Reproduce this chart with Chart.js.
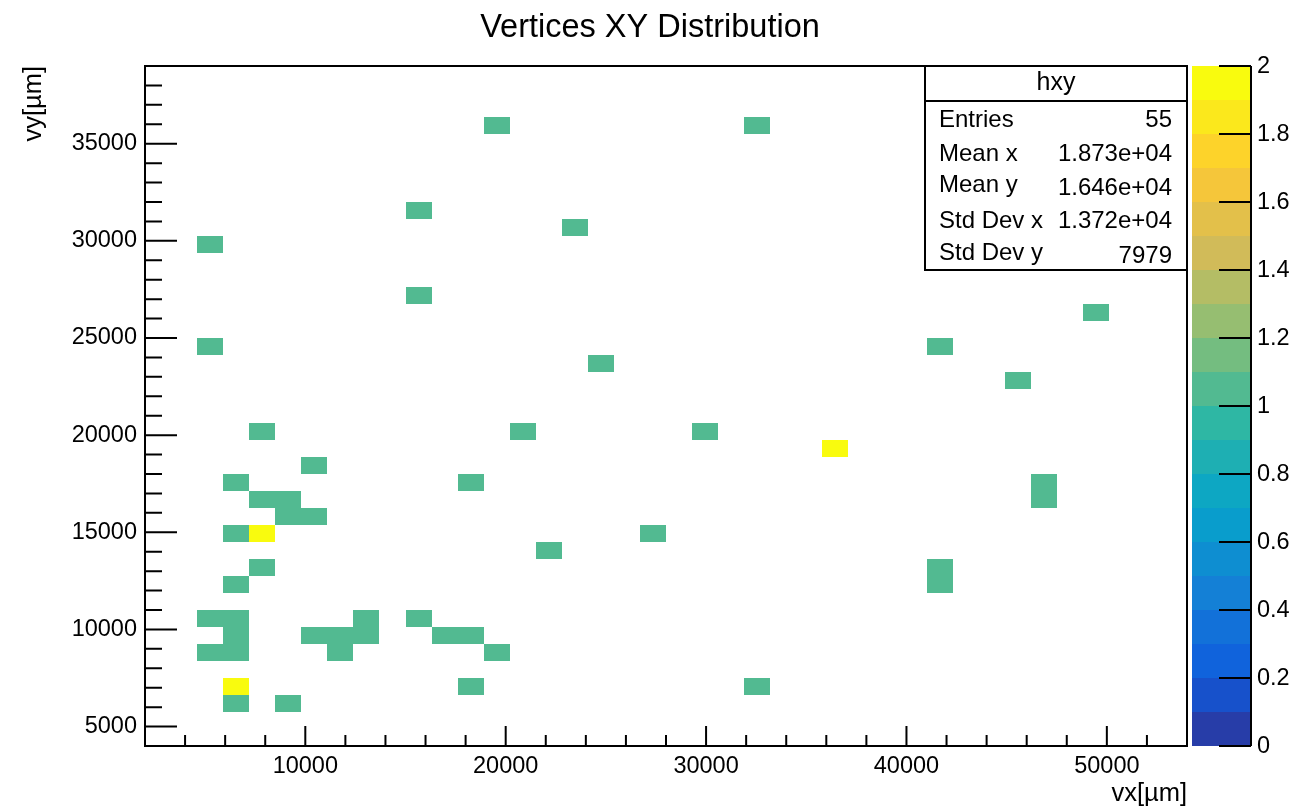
<!DOCTYPE html>
<html>
<head>
<meta charset="utf-8">
<script src="https://cdn.jsdelivr.net/npm/chart.js@4.4.1/dist/chart.umd.min.js"></script>
<style>
  html, body { margin: 0; padding: 0; background: #ffffff; }
  canvas { display: block; }
</style>
</head>
<body>
<canvas id="c" width="1309" height="806"></canvas>
<script>
// hxy: filled bins, given by bin centre (µm) and number of entries
const cellX = [19550, 32550, 15650, 23450, 5250, 15650, 49450, 5250, 41650, 24750,
               45550, 7850, 20850, 29950, 36450, 10450, 6550, 18250, 46850, 46850,
               7850, 9150, 9150, 10450, 6550, 7850, 27350, 22150, 7850, 6550,
               41650, 41650, 5250, 6550, 13050, 15650, 6550, 10450, 11750, 13050,
               16950, 18250, 5250, 6550, 11750, 19550, 6550, 18250, 32550, 6550, 9150];
const cellY = [35937.5, 35937.5, 31562.5, 30687.5, 29812.5, 27187.5, 26312.5, 24562.5, 24562.5, 23687.5,
               22812.5, 20187.5, 20187.5, 20187.5, 19312.5, 18437.5, 17562.5, 17562.5, 17562.5, 16687.5,
               16687.5, 16687.5, 15812.5, 15812.5, 14937.5, 14937.5, 14937.5, 14062.5, 13187.5, 12312.5,
               13187.5, 12312.5, 10562.5, 10562.5, 10562.5, 10562.5, 9687.5, 9687.5, 9687.5, 9687.5,
               9687.5, 9687.5, 8812.5, 8812.5, 8812.5, 8812.5, 7062.5, 7062.5, 7062.5, 6187.5, 6187.5];
const cellCount = [1, 1, 1, 1, 1, 1, 1, 1, 1, 1,
                   1, 1, 1, 1, 2, 1, 1, 1, 1, 1,
                   1, 1, 1, 1, 1, 2, 1, 1, 1, 1,
                   1, 1, 1, 1, 1, 1, 1, 1, 1, 1,
                   1, 1, 1, 1, 1, 1, 2, 1, 1, 1, 1];

// axis ranges and binning of the histogram
const xRange = [2000, 54000];
const yRange = [4000, 39000];
const zRange = [0, 2];
const nBinsX = 40;
const nBinsY = 40;
const nContours = 20;

// tick labels
const xTickValues = [10000, 20000, 30000, 40000, 50000];
const yTickValues = [5000, 10000, 15000, 20000, 25000, 30000, 35000];
const zTickValues = [0, 0.2, 0.4, 0.6, 0.8, 1, 1.2, 1.4, 1.6, 1.8, 2];
const xMinorStep = 2000;
const yMinorStep = 1000;

// statistics box
const statTitle = 'hxy';
const statLabels = ['Entries', 'Mean x', 'Mean y', 'Std Dev x', 'Std Dev y'];
const statValues = ['55', '1.873e+04', '1.646e+04', '1.372e+04', '7979'];

const chartTitle = 'Vertices XY Distribution';
const xTitle = 'vx[\u00b5m]';
const yTitle = 'vy[\u00b5m]';

const FONT = "'Liberation Sans', Arial, Helvetica, sans-serif";

// kBird colour palette (255 colours), sampled like a 20-level COLZ contour
const birdStops = [0.0000, 0.1250, 0.2500, 0.3750, 0.5000, 0.6250, 0.7500, 0.8750, 1.0000];
const birdR = [0.2082, 0.0592, 0.0780, 0.0232, 0.1802, 0.5301, 0.8186, 0.9956, 0.9764];
const birdG = [0.1664, 0.3599, 0.5041, 0.6419, 0.7178, 0.7492, 0.7328, 0.7862, 0.9832];
const birdB = [0.5293, 0.8684, 0.8385, 0.7914, 0.6425, 0.4662, 0.3499, 0.1968, 0.0539];

function birdColor(t) {
  let i = 0;
  while (i < birdStops.length - 2 && t > birdStops[i + 1]) i++;
  const f = (t - birdStops[i]) / (birdStops[i + 1] - birdStops[i]);
  const c = (a) => Math.round(255 * (a[i] + f * (a[i + 1] - a[i])));
  return 'rgb(' + c(birdR) + ',' + c(birdG) + ',' + c(birdB) + ')';
}
function levelColor(k) {
  const idx = Math.floor((k + 0.99) * 255 / nContours);
  return birdColor(Math.min(idx, 254) / 254);
}
function contourOf(v) {
  const k = Math.floor((v - zRange[0]) / (zRange[1] - zRange[0]) * nContours + 1e-9);
  return Math.max(0, Math.min(nContours - 1, k));
}

const rootStylePlugin = {
  id: 'rootStyle',
  beforeDatasetsDraw(chart) {
    const ctx = chart.ctx;
    const xs = chart.scales.x, ys = chart.scales.y;
    const bw = (xRange[1] - xRange[0]) / nBinsX;
    const bh = (yRange[1] - yRange[0]) / nBinsY;
    ctx.save();
    chart.data.datasets[0].data.forEach((p) => {
      if (!p.c) return;
      const x0 = Math.round(xs.getPixelForValue(p.x - bw / 2));
      const x1 = Math.round(xs.getPixelForValue(p.x + bw / 2));
      const y0 = Math.round(ys.getPixelForValue(p.y + bh / 2));
      const y1 = Math.round(ys.getPixelForValue(p.y - bh / 2));
      ctx.fillStyle = levelColor(contourOf(p.c));
      ctx.fillRect(x0, y0, x1 - x0, y1 - y0);
    });
    ctx.restore();
  },
  afterDraw(chart) {
    const ctx = chart.ctx;
    const a = chart.chartArea;
    const xs = chart.scales.x, ys = chart.scales.y, zs = chart.scales.z;
    ctx.save();
    ctx.strokeStyle = '#000';
    ctx.fillStyle = '#000';
    ctx.lineWidth = 2;

    // ticks drawn inside the frame
    ctx.beginPath();
    for (let v = xRange[0] + xMinorStep; v < xRange[1]; v += xMinorStep) {
      const px = xs.getPixelForValue(v);
      const len = xTickValues.includes(v) ? 20 : 11;
      ctx.moveTo(px, a.bottom); ctx.lineTo(px, a.bottom - len);
    }
    for (let v = yRange[0] + yMinorStep; v < yRange[1]; v += yMinorStep) {
      const py = ys.getPixelForValue(v);
      const len = yTickValues.includes(v) ? 32 : 17;
      ctx.moveTo(a.left, py); ctx.lineTo(a.left + len, py);
    }
    ctx.stroke();

    // frame
    ctx.strokeRect(a.left, a.top, a.right - a.left, a.bottom - a.top);

    // colour palette
    const pl = 1192, pr = 1251;
    for (let k = 0; k < nContours; k++) {
      const v0 = zRange[0] + k * (zRange[1] - zRange[0]) / nContours;
      const v1 = zRange[0] + (k + 1) * (zRange[1] - zRange[0]) / nContours;
      const y0 = Math.round(zs.getPixelForValue(v1));
      const y1 = Math.round(zs.getPixelForValue(v0));
      ctx.fillStyle = levelColor(k);
      ctx.fillRect(pl, y0, pr - pl, y1 - y0);
    }
    ctx.fillStyle = '#000';
    ctx.beginPath();
    ctx.moveTo(pr, zs.top); ctx.lineTo(pr, zs.bottom);
    zTickValues.forEach((v) => {
      const py = zs.getPixelForValue(v);
      ctx.moveTo(pr - 32, py); ctx.lineTo(pr, py);
    });
    ctx.stroke();
    ctx.font = '23.5px ' + FONT;
    ctx.textAlign = 'left';
    ctx.textBaseline = 'middle';
    zTickValues.forEach((v) => {
      ctx.fillText(String(v), pr + 6, zs.getPixelForValue(v) + 1);
    });

    // statistics box
    const bl = 925, br = a.right, bt = a.top, bb = 270, bd = 101;
    ctx.fillStyle = '#fff';
    ctx.fillRect(bl, bt, br - bl, bb - bt);
    ctx.strokeRect(bl, bt, br - bl, bb - bt);
    ctx.beginPath();
    ctx.moveTo(bl, bd); ctx.lineTo(br, bd);
    ctx.stroke();
    ctx.fillStyle = '#000';
    ctx.textBaseline = 'alphabetic';
    ctx.font = '25px ' + FONT;
    ctx.textAlign = 'center';
    ctx.fillText(statTitle, (bl + br) / 2, 90);
    ctx.font = '24px ' + FONT;
    const labelBase = [127, 161, 192, 228, 260];
    const valueBase = [127, 161, 195, 228, 263];
    statLabels.forEach((s, i) => {
      ctx.textAlign = 'left';
      ctx.fillText(s, 939, labelBase[i]);
      ctx.textAlign = 'right';
      ctx.fillText(statValues[i], 1172, valueBase[i]);
    });

    // titles
    ctx.font = '32.5px ' + FONT;
    ctx.textAlign = 'center';
    ctx.fillText(chartTitle, 650, 36.5);
    ctx.font = '25.5px ' + FONT;
    ctx.textAlign = 'right';
    ctx.fillText(xTitle, a.right, 801);
    ctx.translate(41, a.top);
    ctx.rotate(-Math.PI / 2);
    ctx.fillText(yTitle, 0, 0);
    ctx.restore();
  }
};

const tickFont = { family: FONT, size: 23.5 };

new Chart(document.getElementById('c'), {
  type: 'scatter',
  data: {
    datasets: [{
      label: 'hxy',
      data: cellX.map((x, i) => ({ x: x, y: cellY[i], c: cellCount[i] })),
      pointRadius: 0,
      pointHoverRadius: 0,
      showLine: false
    }]
  },
  options: {
    responsive: false,
    animation: false,
    devicePixelRatio: 1,
    events: [],
    layout: { padding: { top: 66, right: 122, bottom: 0, left: 0 } },
    plugins: {
      legend: { display: false },
      tooltip: { enabled: false },
      title: { display: false }
    },
    scales: {
      x: {
        type: 'linear',
        min: xRange[0],
        max: xRange[1],
        grid: { display: false, drawTicks: false },
        border: { display: false },
        afterBuildTicks: (s) => { s.ticks = xTickValues.map((v) => ({ value: v })); },
        afterFit: (s) => { s.height = 60; },
        ticks: {
          autoSkip: false, maxRotation: 0, minRotation: 0,
          padding: 6, color: '#000', font: tickFont,
          callback: (v) => String(v)
        }
      },
      y: {
        type: 'linear',
        min: yRange[0],
        max: yRange[1],
        grid: { display: false, drawTicks: false },
        border: { display: false },
        afterBuildTicks: (s) => { s.ticks = yTickValues.map((v) => ({ value: v })); },
        afterFit: (s) => { s.width = 145; },
        ticks: {
          autoSkip: false, padding: 8, color: '#000', font: tickFont,
          callback: (v) => String(v)
        }
      },
      z: {
        type: 'linear',
        axis: 'y',
        position: 'right',
        display: false,
        min: zRange[0],
        max: zRange[1]
      }
    }
  },
  plugins: [rootStylePlugin]
});
</script>
</body>
</html>
